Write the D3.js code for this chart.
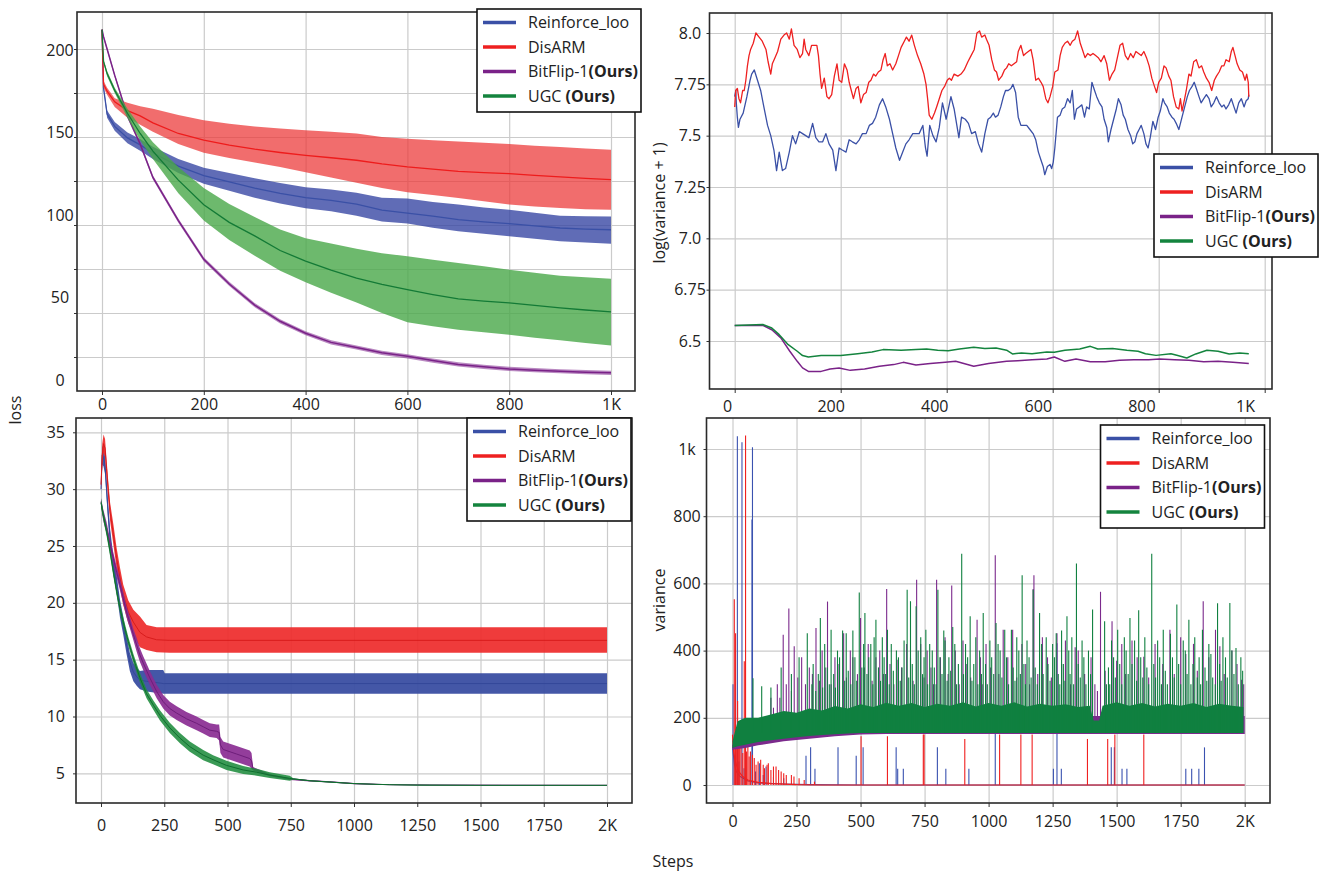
<!DOCTYPE html>
<html>
<head>
<meta charset="utf-8">
<script src="https://cdn.jsdelivr.net/npm/d3@7"></script>
<style>
  body { margin: 0; background: #fff; }
  svg text { font-family: "Open Sans", "DejaVu Sans", sans-serif; fill: #222; }
  .grid line { stroke: #cbcbcb; stroke-width: 1.2; }
  .grid .domain, .ticks .domain, .labels .domain { display: none; }
  .ticks line { stroke: #333; stroke-width: 1; }
</style>
</head>
<body>
<svg id="fig" width="1321" height="871"></svg>
<script>
// ---------------- data ----------------
const seriesNames = ["Reinforce_loo", "DisARM", "BitFlip-1", "UGC"];
const legendSuffix = ["", "", "(Ours)", "(Ours)"];
const lineColors = ["#3a50a6", "#ee2020", "#7a2288", "#14843e"];

// top-left: loss over 1K steps (mean and band)
const lossSteps1k = [0, 3, 10, 25, 50, 75, 100, 150, 200, 250, 300, 350, 400, 450, 500, 550, 600, 650, 700, 750, 800, 850, 900, 950, 1000];
const reinforceLossMean = [211, 178, 163, 156, 149.5, 145.5, 141, 133.5, 128, 124.5, 121, 118, 115.5, 114, 111.8, 108.5, 106.8, 105, 103, 101.8, 100.8, 99.5, 98.3, 97.7, 97.3];
const reinforceLossHi = [211, 179, 165, 158.5, 152.5, 148.8, 144.5, 137.5, 132.5, 129.5, 126.5, 123.8, 121.5, 120.2, 118.3, 115.5, 115, 113, 111.6, 110, 108.7, 107, 105.3, 105, 104.9];
const reinforceLossLo = [211, 177, 161, 153.5, 146.5, 142.2, 137.5, 129.5, 123.5, 119.5, 115.5, 112.2, 109.5, 107.8, 105.3, 102, 100.8, 98.5, 96.4, 95, 93.6, 92.2, 90.7, 90, 89.4];
const disarmLossMean = [211, 180, 176, 170, 165, 162, 158, 152, 148.2, 145.4, 143.1, 141.2, 139.6, 138.2, 136.8, 134.7, 133, 131.7, 130.5, 129.8, 129.2, 128.2, 127.3, 126.5, 125.8];
const disarmLossHi = [211, 182, 178, 172, 169.5, 167.5, 166, 162.5, 159.5, 157.5, 156, 154.8, 153.8, 153, 152, 150, 149, 148.2, 147.5, 146.8, 146, 145, 144.3, 143.5, 142.8];
const disarmLossLo = [211, 178, 174, 167, 161, 157, 153, 146, 141, 138, 135.5, 133, 130, 127, 124, 121, 118.6, 117, 115.3, 113.5, 111.6, 110.5, 109.7, 109, 108.7];
const bitflipLossMean = [211, 207, 200, 185, 162, 146, 127, 102.5, 80.5, 66.5, 54.5, 45.3, 38.5, 33.3, 30.4, 27.4, 25.4, 23, 20.8, 19.4, 18.2, 17.5, 16.9, 16.4, 16];
const bitflipLossHi = [211, 208, 201, 186, 163.2, 147.2, 128.2, 103.7, 81.7, 67.7, 55.7, 46.5, 39.7, 34.5, 31.6, 28.6, 26.6, 24.2, 22, 20.6, 19.4, 18.7, 18.1, 17.6, 17.2];
const bitflipLossLo = [211, 206, 199, 184, 160.8, 144.8, 125.8, 101.3, 79.3, 65.3, 53.3, 44.1, 37.3, 32.1, 29.2, 26.2, 24.2, 21.8, 19.6, 18.2, 17, 16.3, 15.7, 15.2, 14.8];
const ugcLossMean = [211, 193, 186, 176.5, 163.5, 152, 142, 125.5, 111.5, 101.5, 93.8, 85.5, 79.5, 74.3, 69.8, 66.3, 63.3, 60.5, 58, 56.8, 55.7, 54.3, 52.9, 51.7, 50.6];
const ugcLossHi = [211, 194, 187.5, 178, 166, 156, 147, 133, 121, 112, 104.5, 97.5, 92.5, 89.5, 86.5, 84, 82.2, 80.2, 78.4, 76.5, 74.6, 72.9, 71.2, 70.3, 69.5];
const ugcLossLo = [211, 192, 184.5, 175, 161, 148, 137.5, 118, 102.5, 91.5, 82.5, 74, 67.5, 61.5, 56, 50, 44.7, 42.5, 40.5, 39, 37.7, 36, 34.5, 33, 31.6];

// top-right: log(variance + 1), [step, value]
const reinforceLogVar = [[0,7.69],[2,7.72],[3,7.66],[5,7.59],[7,7.54],[10,7.58],[16,7.61],[23,7.69],[29,7.77],[32,7.8],[37,7.82],[43,7.77],[49,7.72],[55,7.64],[62,7.55],[68,7.5],[74,7.43],[79,7.33],[84,7.42],[90,7.33],[96,7.34],[103,7.42],[109,7.5],[115,7.46],[122,7.52],[128,7.51],[134,7.5],[140,7.49],[147,7.56],[153,7.49],[159,7.47],[166,7.47],[172,7.51],[178,7.46],[185,7.43],[191,7.33],[197,7.44],[203,7.43],[210,7.42],[216,7.48],[222,7.47],[229,7.46],[235,7.48],[241,7.51],[248,7.51],[254,7.55],[260,7.56],[266,7.59],[273,7.65],[279,7.68],[285,7.64],[292,7.58],[298,7.51],[304,7.44],[311,7.38],[317,7.42],[323,7.46],[329,7.48],[336,7.51],[342,7.51],[348,7.51],[355,7.55],[360,7.44],[363,7.4],[368,7.55],[374,7.5],[380,7.47],[386,7.54],[392,7.66],[399,7.58],[408,7.69],[414,7.63],[423,7.49],[428,7.59],[435,7.58],[441,7.56],[447,7.51],[454,7.52],[460,7.46],[466,7.42],[472,7.51],[478,7.58],[483,7.59],[488,7.61],[492,7.59],[497,7.6],[502,7.64],[507,7.69],[511,7.72],[516,7.72],[521,7.73],[525,7.75],[530,7.71],[535,7.59],[540,7.55],[544,7.55],[551,7.55],[557,7.53],[563,7.51],[568,7.48],[573,7.42],[578,7.38],[582,7.35],[585,7.31],[590,7.35],[595,7.36],[598,7.34],[601,7.37],[604,7.44],[609,7.59],[614,7.6],[618,7.63],[623,7.64],[628,7.68],[633,7.66],[637,7.72],[641,7.58],[645,7.63],[650,7.64],[655,7.65],[660,7.59],[664,7.64],[669,7.63],[674,7.76],[679,7.72],[683,7.69],[688,7.66],[693,7.64],[697,7.58],[702,7.54],[705,7.47],[710,7.53],[715,7.58],[720,7.63],[724,7.68],[729,7.65],[733,7.6],[737,7.58],[742,7.53],[747,7.5],[751,7.46],[755,7.47],[759,7.51],[763,7.53],[767,7.55],[772,7.51],[776,7.46],[780,7.44],[784,7.49],[789,7.57],[794,7.53],[799,7.59],[803,7.62],[808,7.68],[811,7.66],[816,7.64],[820,7.61],[825,7.59],[829,7.58],[833,7.56],[838,7.53],[841,7.56],[844,7.59],[849,7.64],[854,7.69],[858,7.72],[863,7.74],[867,7.76],[871,7.73],[876,7.69],[880,7.66],[885,7.68],[890,7.7],[895,7.68],[899,7.64],[904,7.66],[909,7.69],[914,7.66],[919,7.64],[923,7.65],[927,7.63],[932,7.65],[937,7.68],[942,7.64],[946,7.61],[951,7.66],[956,7.68],[961,7.64],[965,7.67],[969,7.68],[970,7.7]];
const disarmLogVar = [[0,7.64],[2,7.72],[5,7.73],[8,7.68],[11,7.66],[15,7.72],[18,7.72],[21,7.77],[24,7.84],[27,7.89],[30,7.92],[35,7.95],[40,8.0],[46,7.98],[52,7.96],[59,7.92],[63,7.86],[68,7.8],[71,7.85],[76,7.88],[81,7.91],[87,7.97],[93,7.99],[98,8.0],[103,7.97],[107,8.02],[112,7.94],[118,7.92],[123,7.88],[128,7.9],[131,7.97],[134,7.92],[140,7.89],[145,7.94],[150,7.94],[155,7.94],[158,7.89],[161,7.8],[164,7.73],[169,7.78],[174,7.69],[178,7.68],[183,7.7],[188,7.79],[193,7.85],[197,7.77],[202,7.76],[207,7.85],[212,7.82],[216,7.76],[220,7.72],[224,7.68],[229,7.73],[233,7.74],[238,7.66],[243,7.7],[248,7.71],[253,7.76],[257,7.77],[262,7.8],[266,7.79],[271,7.81],[276,7.82],[280,7.87],[284,7.9],[288,7.84],[293,7.85],[298,7.82],[304,7.85],[309,7.89],[314,7.93],[320,7.96],[324,7.98],[329,7.96],[334,7.99],[339,7.94],[345,7.89],[351,7.85],[357,7.8],[361,7.75],[364,7.68],[367,7.6],[372,7.58],[377,7.61],[381,7.64],[386,7.68],[391,7.72],[396,7.74],[401,7.77],[405,7.78],[409,7.77],[414,7.8],[421,7.79],[427,7.8],[433,7.82],[440,7.86],[446,7.89],[452,7.92],[457,8.0],[462,8.01],[466,7.98],[472,7.99],[475,7.97],[480,7.94],[485,7.87],[490,7.82],[494,7.81],[498,7.77],[504,7.79],[509,7.82],[513,7.83],[517,7.85],[522,7.84],[527,7.85],[532,7.86],[535,7.91],[540,7.94],[545,7.89],[549,7.9],[554,7.91],[559,7.92],[563,7.87],[568,7.77],[573,7.78],[578,7.76],[582,7.74],[587,7.68],[591,7.66],[595,7.69],[600,7.74],[604,7.81],[610,7.82],[614,7.89],[618,7.93],[623,7.95],[628,7.96],[633,7.94],[637,7.96],[642,7.97],[647,8.01],[652,7.95],[656,7.92],[661,7.88],[666,7.9],[671,7.89],[676,7.9],[681,7.89],[686,7.88],[691,7.86],[697,7.89],[702,7.85],[707,7.77],[712,7.8],[717,7.82],[722,7.88],[727,7.94],[732,7.95],[737,7.89],[742,7.87],[747,7.9],[752,7.88],[757,7.91],[762,7.9],[767,7.89],[772,7.91],[777,7.88],[782,7.84],[787,7.78],[792,7.74],[796,7.71],[800,7.76],[805,7.78],[810,7.84],[814,7.83],[819,7.79],[823,7.77],[828,7.69],[833,7.64],[838,7.63],[841,7.68],[844,7.62],[849,7.68],[852,7.72],[857,7.8],[861,7.79],[866,7.86],[871,7.87],[876,7.83],[881,7.84],[885,7.81],[890,7.78],[895,7.76],[900,7.72],[905,7.77],[909,7.79],[914,7.81],[919,7.84],[923,7.84],[927,7.87],[933,7.86],[937,7.91],[940,7.93],[944,7.89],[948,7.85],[953,7.82],[958,7.81],[963,7.77],[966,7.8],[969,7.76],[970,7.69]];
const bitflipLogVar = [[0,6.576],[53,6.576],[70,6.555],[87,6.515],[104,6.45],[118,6.401],[128,6.369],[139,6.352],[163,6.352],[180,6.364],[197,6.369],[218,6.357],[245,6.364],[273,6.377],[300,6.385],[318,6.396],[342,6.383],[369,6.39],[397,6.396],[417,6.401],[451,6.377],[479,6.39],[513,6.401],[534,6.404],[561,6.409],[589,6.412],[603,6.422],[623,6.401],[644,6.412],[671,6.399],[699,6.399],[726,6.406],[753,6.409],[781,6.409],[802,6.412],[830,6.409],[857,6.406],[885,6.399],[912,6.401],[940,6.396],[970,6.391]];
const ugcLogVar = [[0,6.576],[53,6.58],[70,6.563],[84,6.531],[101,6.482],[118,6.45],[128,6.429],[139,6.422],[163,6.429],[200,6.429],[232,6.438],[259,6.446],[280,6.458],[314,6.455],[342,6.458],[362,6.461],[383,6.455],[403,6.453],[424,6.461],[451,6.469],[472,6.463],[493,6.466],[513,6.455],[524,6.437],[541,6.442],[561,6.438],[589,6.446],[603,6.445],[623,6.455],[651,6.461],[671,6.474],[685,6.461],[713,6.463],[740,6.455],[761,6.45],[775,6.438],[795,6.43],[823,6.438],[836,6.429],[853,6.417],[870,6.437],[891,6.455],[912,6.45],[933,6.437],[953,6.442],[970,6.438]];

// bottom-left: loss over 2K steps, [step, lower, mean, upper]
const reinforceLoss2k = [[0,29.5,30,30.5],[5,32.2,33,33.8],[10,32,32.8,33.6],[16,31.3,32.1,32.9],[22,29.2,30,30.8],[29,26.9,27.7,28.5],[36,24.9,25.7,26.5],[49,22.5,23.3,24.1],[62,20.8,21.6,22.4],[75,18.7,19.5,20.3],[88,17.2,18,18.8],[101,15.5,16.3,17.1],[114,14,14.8,15.6],[128,13.1,13.9,14.7],[141,12.7,13.5,14.3],[154,12.4,13.2,14],[180,12.2,13.1,14.1],[246,12,12.9,14.1],[252,12,12.9,13.8],[2000,12,12.9,13.8]];
const disarmLoss2k = [[0,29.9,30.4,30.9],[5,32,33,34],[10,33.2,34,34.8],[16,32.8,33.6,34.4],[22,31,31.8,32.6],[29,29,29.8,30.6],[36,27.2,28,28.8],[49,25.1,26,26.9],[62,23,23.9,24.8],[75,21.3,22.2,23.1],[88,19.8,20.7,21.6],[108,18.2,19.2,20.2],[128,17.1,18.3,19.4],[154,16.1,17.4,18.8],[180,15.85,17,18.05],[220,15.65,16.75,17.85],[272,15.6,16.7,17.85],[2000,15.6,16.7,17.85]];
const bitflipLoss2k = [[0,28.6,28.9,29.2],[9,27.2,27.7,28.2],[22,26.1,26.6,27.1],[36,24.6,25.1,25.6],[49,23.4,23.9,24.4],[62,22.2,22.7,23.2],[75,21.1,21.6,22.1],[88,19.9,20.4,20.9],[101,18.7,19.2,19.7],[115,17.7,18.2,18.7],[128,16.7,17.2,17.7],[141,15.7,16.3,16.9],[154,14.8,15.4,16],[167,14.1,14.7,15.3],[193,12.8,13.4,14],[220,11.6,12.2,12.8],[246,10.7,11.3,11.9],[272,10.1,10.7,11.3],[299,9.7,10.3,10.9],[338,9.2,9.8,10.4],[378,8.8,9.4,10],[404,8.5,9.1,9.7],[430,8.2,8.8,9.4],[457,8.1,8.7,9.3],[467,7.9,8.6,9.3],[472,6.8,7.5,8.2],[483,6.4,7.1,7.8],[536,6,6.7,7.4],[588,5.6,6.3,7],[595,5.4,6.1,6.8],[601,5.25,5.4,5.55],[667,4.75,4.85,4.95],[746,4.42,4.5,4.58],[825,4.28,4.35,4.42],[904,4.19,4.25,4.31],[1000,4.05,4.1,4.15],[1141,3.97,4,4.03],[1300,3.95,3.97,3.99],[2000,3.93,3.95,3.97]];
const ugcLoss2k = [[0,28.4,28.8,29.2],[9,27.3,27.7,28.1],[22,25.9,26.3,26.7],[36,24.1,24.5,24.9],[49,22.3,22.7,23.1],[62,20.6,21,21.4],[75,19.1,19.5,19.9],[88,17.9,18.3,18.7],[108,16.2,16.6,17],[128,14.7,15.1,15.5],[154,13,13.4,13.8],[180,11.6,12,12.4],[207,10.6,11,11.4],[233,9.65,10.1,10.55],[272,8.55,9,9.45],[312,7.65,8.1,8.55],[351,6.9,7.35,7.8],[404,6.15,6.6,7.05],[443,5.8,6.2,6.6],[496,5.3,5.7,6.1],[562,4.95,5.3,5.65],[615,4.8,5.1,5.4],[667,4.6,4.85,5.1],[746,4.35,4.56,4.8],[760,4.46,4.52,4.58],[825,4.3,4.35,4.4],[930,4.15,4.2,4.25],[1000,4.06,4.1,4.14],[1141,3.97,4,4.03],[1250,3.94,3.97,4],[1500,3.93,3.95,3.97],[2000,3.93,3.95,3.97]];

// bottom-right: variance over 2K steps
const reinforceVarBase = [[0,120],[3,95],[8,60],[15,40],[30,25],[60,12],[100,6],[200,3],[300,1],[500,0],[2000,0]];
const reinforceVarSpikes = [[2,300],[10,90],[19,1038],[25,70],[37,1020],[45,50],[76,790],[78,1005],[90,40],[105,65],[120,30],[131,55],[160,25],[200,20],[287,87],[305,112],[322,48],[412,112],[483,87],[510,112],[639,112],[645,48],[667,48],[800,112],[833,48],[923,48],[1026,155],[1253,48],[1267,422],[1284,48],[1479,112],[1491,112],[1521,48],[1540,48],[1770,48],[1793,48],[1821,48],[1843,112]];
const disarmVarBase = [[0,150],[3,110],[8,80],[15,60],[25,40],[40,25],[60,15],[100,8],[150,4],[250,1],[350,0],[2000,0]];
const disarmVarSpikes = [[7,553],[12,452],[15,130],[20,250],[24,110],[28,180],[33,150],[40,95],[46,368],[51,1040],[55,100],[60,120],[65,85],[70,100],[78,90],[85,80],[92,60],[100,70],[110,75],[120,60],[125,50],[135,60],[140,65],[150,45],[160,55],[170,55],[180,45],[190,40],[200,35],[210,30],[230,30],[240,25],[260,20],[280,15],[320,10],[502,145],[605,145],[745,150],[748,150],[907,137],[1043,150],[1126,150],[1170,150],[1386,137],[1465,137],[1493,150],[1606,150]];
const bitflipVarBand = [[0,105,120],[50,110,140],[100,118,155],[200,130,170],[300,138,180],[400,145,190],[500,150,200],[600,152,205],[2000,152,205]];
const bitflipVarSpikes = [[150,260],[160,230],[175,300],[185,260],[198,447],[210,300],[220,525],[230,280],[241,413],[255,320],[270,380],[285,300],[300,350],[312,330],[326,467],[340,310],[350,400],[362,350],[371,546],[385,300],[400,380],[412,360],[434,452],[445,320],[460,400],[470,380],[488,330],[500,497],[515,350],[530,420],[545,310],[560,380],[575,400],[590,330],[602,583],[615,360],[630,300],[646,373],[660,350],[680,420],[695,380],[705,310],[719,611],[735,420],[748,320],[760,400],[775,350],[785,300],[797,611],[812,380],[830,440],[842,330],[856,594],[870,400],[885,300],[900,430],[915,360],[930,320],[955,492],[968,380],[975,300],[990,420],[1008,350],[1026,684],[1040,330],[1057,462],[1075,380],[1094,462],[1110,320],[1130,420],[1145,360],[1160,300],[1174,583],[1177,624],[1192,330],[1210,440],[1230,380],[1245,320],[1267,452],[1285,360],[1300,430],[1320,300],[1338,410],[1350,400],[1375,330],[1400,380],[1415,300],[1425,280],[1437,575],[1455,340],[1482,487],[1500,370],[1520,420],[1535,330],[1560,430],[1580,380],[1606,382],[1625,320],[1650,420],[1680,360],[1708,462],[1725,330],[1750,440],[1770,390],[1800,420],[1815,340],[1838,547],[1860,380],[1886,462],[1903,413],[1920,330],[1950,400],[1970,360],[1988,313],[1996,300]];
const ugcVarBand = [[0,110,130],[20,115,190],[50,120,200],[100,128,200],[150,133,210],[200,138,220],[250,142,215],[300,146,228],[350,149,222],[400,151,235],[450,153,228],[500,155,240],[550,155,232],[600,155,245],[650,155,236],[700,155,244],[750,155,232],[800,155,242],[850,155,236],[900,155,246],[950,155,234],[1000,155,244],[1050,155,236],[1100,155,246],[1150,155,234],[1200,155,242],[1250,155,236],[1300,155,240],[1350,155,232],[1395,155,236],[1410,155,192],[1432,155,192],[1445,155,236],[1500,155,246],[1550,155,236],[1600,155,244],[1650,155,234],[1700,155,242],[1750,155,236],[1800,155,244],[1850,155,232],[1900,155,242],[1950,155,236],[1995,155,232]];
const ugcVarSpikes = [[80,318],[114,294],[150,290],[190,350],[230,330],[260,380],[292,452],[310,300],[315,360],[325,280],[335,330],[343,497],[352,290],[360,420],[370,350],[378,300],[385,462],[395,330],[402,290],[410,400],[418,380],[430,460],[438,310],[444,452],[452,340],[462,300],[470,460],[478,380],[485,310],[495,573],[505,350],[512,420],[517,512],[525,330],[532,380],[540,420],[548,300],[553,440],[560,492],[570,350],[578,310],[585,440],[592,380],[598,330],[605,462],[612,300],[620,420],[628,340],[640,400],[648,380],[655,310],[662,350],[670,430],[682,581],[688,320],[695,547],[702,360],[710,300],[717,532],[725,400],[735,440],[742,330],[748,380],[755,462],[762,300],[770,420],[780,400],[788,350],[795,300],[802,581],[810,380],[818,330],[825,460],[830,430],[838,310],[845,380],[852,340],[860,470],[868,420],[875,300],[882,360],[895,688],[902,330],[910,420],[918,380],[928,502],[935,310],[942,360],[950,440],[958,300],[965,400],[972,330],[979,512],[988,360],[995,300],[1005,430],[1012,380],[1020,330],[1029,482],[1037,420],[1045,400],[1052,320],[1063,462],[1070,380],[1078,300],[1089,462],[1096,350],[1103,310],[1110,440],[1118,400],[1124,330],[1131,624],[1138,360],[1144,300],[1150,430],[1158,380],[1166,320],[1174,581],[1182,350],[1190,300],[1199,512],[1207,420],[1213,330],[1225,440],[1232,360],[1240,310],[1250,420],[1257,380],[1264,452],[1272,330],[1278,300],[1285,460],[1292,360],[1298,310],[1306,502],[1313,400],[1318,330],[1325,440],[1332,300],[1343,659],[1350,360],[1358,320],[1365,430],[1372,380],[1380,300],[1390,400],[1398,330],[1406,522],[1453,487],[1460,300],[1468,350],[1473,300],[1480,430],[1488,380],[1495,320],[1504,462],[1512,360],[1520,300],[1530,440],[1537,400],[1545,330],[1552,497],[1560,360],[1570,430],[1578,310],[1586,520],[1594,380],[1602,320],[1610,440],[1618,350],[1625,300],[1637,688],[1645,360],[1652,320],[1660,430],[1668,380],[1675,300],[1682,462],[1690,340],[1698,300],[1710,450],[1718,380],[1725,320],[1735,537],[1742,360],[1750,300],[1760,430],[1768,400],[1775,330],[1782,492],[1790,300],[1798,360],[1805,440],[1815,320],[1822,380],[1828,300],[1835,462],[1845,350],[1852,310],[1860,420],[1868,390],[1875,320],[1885,300],[1894,541],[1902,360],[1908,310],[1915,440],[1925,380],[1932,320],[1942,542],[1950,400],[1958,330],[1966,408],[1975,300],[1985,380],[1992,340]];

// tick values
const steps1kTicks = [0, 200, 400, 600, 800, 1000];
const steps2kTicks = [0, 250, 500, 750, 1000, 1250, 1500, 1750, 2000];
const loss1kTicks = [0, 50, 100, 150, 200];
const loss1kGrid = [25, 50, 75, 100, 125, 150, 175, 200];
const logVarTicks = [6.5, 6.75, 7.0, 7.25, 7.5, 7.75, 8.0];
const loss2kTicks = [5, 10, 15, 20, 25, 30, 35];
const varTicks = [0, 200, 400, 600, 800, 1000];

// ---------------- drawing ----------------
const svg = d3.select("#fig");
svg.append("rect").attr("width", 1321).attr("height", 871).attr("fill", "#fff");

let clipId = 0;
function makePanel(cfg) {
  const f = cfg.frame;
  const x = d3.scaleLinear().domain(cfg.xDomain).range(cfg.xRange);
  const y = d3.scaleLinear().domain(cfg.yDomain).range(cfg.yRange);
  const g = svg.append("g");

  g.append("g").attr("class", "grid")
    .attr("transform", `translate(0,${f.y1})`)
    .call(d3.axisBottom(x).tickValues(cfg.xTicks).tickSize(-(f.y1 - f.y0)).tickFormat(""));
  g.append("g").attr("class", "grid")
    .attr("transform", `translate(${f.x0},0)`)
    .call(d3.axisLeft(y).tickValues(cfg.yGrid).tickSize(-(f.x1 - f.x0)).tickFormat(""));

  // small tick marks outside the frame
  g.append("g").attr("class", "ticks")
    .attr("transform", `translate(0,${f.y1})`)
    .call(d3.axisBottom(x).tickValues(cfg.xTicks).tickSize(4).tickFormat(""));
  g.append("g").attr("class", "ticks")
    .attr("transform", `translate(${f.x0},0)`)
    .call(d3.axisLeft(y).tickValues(cfg.yGrid).tickSize(3).tickFormat(""));

  // tick labels
  const xl = cfg.xLabelScale || x;
  g.append("g").attr("class", "labels")
    .attr("transform", `translate(0,${f.y1})`)
    .call(d3.axisBottom(xl).tickValues(cfg.xTicks).tickSize(0).tickPadding(cfg.xPad).tickFormat(cfg.xFmt))
    .selectAll("text").style("font-size", "16px").attr("fill", "#222");
  const yl = cfg.yLabelScale || y;
  const ya = g.append("g").attr("class", "labels")
    .attr("transform", `translate(${f.x0},0)`)
    .call(d3.axisLeft(yl).tickValues(cfg.yTicks).tickSize(0).tickPadding(cfg.yPad).tickFormat(cfg.yFmt));
  ya.selectAll("text").style("font-size", "16px").attr("fill", "#222");
  if (cfg.yCenter != null) {
    ya.selectAll("text").attr("text-anchor", "middle").attr("x", cfg.yCenter - f.x0);
  }

  const id = "clip" + (clipId++);
  g.append("clipPath").attr("id", id).append("rect")
    .attr("x", f.x0).attr("y", f.y0).attr("width", f.x1 - f.x0).attr("height", f.y1 - f.y0);
  const plot = g.append("g").attr("clip-path", `url(#${id})`);

  return { g, plot, x, y, f };
}

function drawFrame(p) {
  p.g.append("rect")
    .attr("x", p.f.x0).attr("y", p.f.y0)
    .attr("width", p.f.x1 - p.f.x0).attr("height", p.f.y1 - p.f.y0)
    .attr("fill", "none").attr("stroke", "#2a2a2a").attr("stroke-width", 1.6);
}

function drawLegend(box) {
  const lg = svg.append("g").attr("transform", `translate(${box.x},${box.y})`);
  lg.append("rect").attr("width", 164).attr("height", 103)
    .attr("fill", "#fff").attr("stroke", "#111").attr("stroke-width", 1.6);
  seriesNames.forEach((name, i) => {
    const cy = 13.5 + i * 24.5;
    lg.append("line").attr("x1", 6).attr("x2", 39).attr("y1", cy).attr("y2", cy)
      .attr("stroke", lineColors[i]).attr("stroke-width", 3.6);
    const t = lg.append("text").attr("x", 51).attr("y", cy).attr("dy", "0.35em")
      .style("font-size", "16px");
    t.append("tspan").text(name + (i === 3 ? " " : ""));
    if (legendSuffix[i]) t.append("tspan").style("font-weight", "bold").text(legendSuffix[i]);
  });
}

function bandRows(steps, lo, mean, hi) {
  return steps.map((s, i) => [s, lo[i], mean[i], hi[i]]);
}

function drawBand(p, rows, color, fillColor, opacity, lineWidth) {
  p.plot.append("path").datum(rows)
    .attr("fill", fillColor).attr("fill-opacity", opacity)
    .attr("d", d3.area().x(d => p.x(d[0])).y0(d => p.y(d[1])).y1(d => p.y(d[3])));
  p.plot.append("path").datum(rows)
    .attr("fill", "none").attr("stroke", color).attr("stroke-width", lineWidth)
    .attr("d", d3.line().x(d => p.x(d[0])).y(d => p.y(d[2])));
}

function drawLine(p, pts, color, w) {
  p.plot.append("path").datum(pts)
    .attr("fill", "none").attr("stroke", color).attr("stroke-width", w)
    .attr("stroke-linejoin", "round")
    .attr("d", d3.line().x(d => p.x(d[0])).y(d => p.y(d[1])));
}

function drawSpikes(p, spikes, base, color, w) {
  p.plot.append("g").selectAll("line").data(spikes).join("line")
    .attr("x1", d => p.x(d[0])).attr("x2", d => p.x(d[0]))
    .attr("y1", p.y(base)).attr("y2", d => p.y(d[1]))
    .attr("stroke", color).attr("stroke-width", w);
}

const kFmt = big => d => (d === big ? (big === 1000 ? "1K" : "2K") : d);

// ---- top-left: loss (1K steps)
const p1 = makePanel({
  frame: { x0: 77, x1: 635, y0: 12, y1: 391 },
  xDomain: [0, 1000], xRange: [102, 611],
  yDomain: [0, 200], yRange: [401, 49],
  xTicks: steps1kTicks, yGrid: loss1kGrid, yTicks: loss1kTicks,
  yLabelScale: d3.scaleLinear().domain([0, 200]).range([380, 50]),
  xPad: 8, yPad: 4, yCenter: 60,
  xFmt: kFmt(1000), yFmt: d => d
});
drawBand(p1, bandRows(lossSteps1k, reinforceLossLo, reinforceLossMean, reinforceLossHi), "#3a50a6", "#3342a2", 0.78, 1.3);
drawBand(p1, bandRows(lossSteps1k, disarmLossLo, disarmLossMean, disarmLossHi), "#ee1c1c", "#ec3434", 0.72, 1.3);
drawBand(p1, bandRows(lossSteps1k, bitflipLossLo, bitflipLossMean, bitflipLossHi), "#7a2288", "#8a3a98", 0.6, 1.5);
drawBand(p1, bandRows(lossSteps1k, ugcLossLo, ugcLossMean, ugcLossHi), "#137a36", "#48a848", 0.8, 1.3);
drawFrame(p1);

// ---- top-right: log(variance + 1)
const p2 = makePanel({
  frame: { x0: 709.5, x1: 1272, y0: 13, y1: 389 },
  xDomain: [0, 1000], xRange: [734.7, 1264.7],
  yDomain: [6.5, 8.0], yRange: [341, 33],
  xTicks: steps1kTicks, yGrid: logVarTicks, yTicks: logVarTicks,
  xLabelScale: d3.scaleLinear().domain([0, 1000]).range([727, 1245]),
  xPad: 12, yPad: 6, yCenter: 690,
  xFmt: kFmt(1000),
  yFmt: d => (Math.round(d * 100) % 10 === 0 ? d.toFixed(1) : d.toFixed(2))
});
drawLine(p2, reinforceLogVar, "#3a50a6", 1.3);
drawLine(p2, disarmLogVar, "#ee2020", 1.3);
drawLine(p2, bitflipLogVar, "#7a2288", 1.5);
drawLine(p2, ugcLogVar, "#14843e", 1.5);
drawFrame(p2);

// ---- bottom-left: loss (2K steps)
const p3 = makePanel({
  frame: { x0: 76, x1: 632, y0: 418, y1: 803 },
  xDomain: [0, 2000], xRange: [101, 607],
  yDomain: [0, 35], yRange: [830.2, 432.3],
  xTicks: steps2kTicks, yGrid: loss2kTicks, yTicks: loss2kTicks,
  xPad: 17, yPad: 11,
  xFmt: kFmt(2000), yFmt: d => d
});
drawBand(p3, reinforceLoss2k, "#34489a", "#3a4ea2", 0.95, 1);
drawBand(p3, disarmLoss2k, "#d81c1c", "#ee2a2a", 0.92, 1);
drawBand(p3, bitflipLoss2k, "#6e1e7a", "#8a2c92", 0.92, 1);
drawBand(p3, ugcLoss2k, "#0e6e2e", "#1f8c3e", 0.88, 1);
drawFrame(p3);

// ---- bottom-right: variance
const p4 = makePanel({
  frame: { x0: 706.5, x1: 1270, y0: 418, y1: 803 },
  xDomain: [0, 2000], xRange: [732.5, 1244.7],
  yDomain: [0, 1000], yRange: [785, 449],
  xTicks: steps2kTicks, yGrid: varTicks, yTicks: varTicks,
  xPad: 13, yPad: 8, yCenter: 687,
  xFmt: kFmt(2000), yFmt: d => (d === 1000 ? "1k" : d)
});
drawLine(p4, reinforceVarBase, "#3a52b0", 1.2);
drawSpikes(p4, reinforceVarSpikes, 0, "#3a52b0", 1.1);
drawLine(p4, disarmVarBase, "#f02020", 1.2);
drawSpikes(p4, disarmVarSpikes, 0, "#f02020", 1.1);
p4.plot.append("path").datum(bitflipVarBand).attr("fill", "#7b2a8c")
  .attr("d", d3.area().x(d => p4.x(d[0])).y0(d => p4.y(d[1])).y1(d => p4.y(d[2])));
drawSpikes(p4, bitflipVarSpikes, 152, "#7b2a8c", 1.1);
p4.plot.append("path").datum(ugcVarBand).attr("fill", "#108040")
  .attr("d", d3.area().x(d => p4.x(d[0])).y0(d => p4.y(d[1])).y1(d => p4.y(d[2])));
drawSpikes(p4, ugcVarSpikes, 155, "#108040", 1.1);
drawFrame(p4);

// legends
drawLegend({ x: 477, y: 9 });
drawLegend({ x: 1154, y: 154 });
drawLegend({ x: 467, y: 418 });
drawLegend({ x: 1100.5, y: 425 });

// axis titles
function vTitle(txt, cx, cy) {
  svg.append("text").attr("transform", `translate(${cx},${cy}) rotate(-90)`)
    .attr("text-anchor", "middle").attr("dy", "0.35em")
    .style("font-size", "16px").text(txt);
}
vTitle("loss", 15, 410);
vTitle("log(variance + 1)", 659, 203);
vTitle("variance", 659, 600);
svg.append("text").attr("x", 673).attr("y", 861).attr("dy", "0.35em")
  .attr("text-anchor", "middle").style("font-size", "16px").text("Steps");
</script>
</body>
</html>
